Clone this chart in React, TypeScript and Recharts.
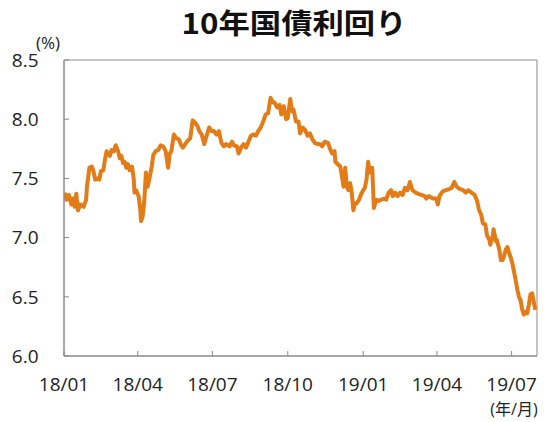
import React from 'react';
import { LineChart, Line, XAxis, YAxis, ReferenceArea } from 'recharts';

// days since 2018-01-01
const dayOffsets = [
  1, 3, 6, 9, 11, 13, 15, 17, 20, 24, 27, 28, 31, 34, 36, 38, 41, 43, 45, 48,
  50, 52, 54, 56, 58, 61, 63, 66, 68, 70, 72, 74, 76, 78, 80, 83, 85, 86, 88, 91,
  93, 94, 96, 98, 100, 102, 104, 107, 109, 112, 115, 118, 121, 124, 127, 129, 131, 134, 137, 140,
  143, 145, 150, 154, 157, 160, 163, 165, 168, 171, 174, 177, 180, 183, 186, 189, 192, 195, 198, 202,
  205, 207, 211, 213, 216, 219, 222, 225, 228, 231, 234, 237, 240, 243, 246, 249, 252, 255, 257, 260,
  263, 265, 268, 271, 273, 276, 278, 280, 283, 286, 288, 291, 294, 297, 300, 303, 306, 309, 312, 315,
  318, 322, 324, 327, 330, 331, 334, 337, 339, 341, 343, 345, 347, 349, 351, 353, 355, 357, 360, 362,
  365, 367, 369, 371, 373, 376, 378, 381, 384, 387, 391, 393, 396, 399, 401, 404, 407, 410, 413, 416,
  419, 422, 425, 429, 432, 436, 440, 442, 445, 450, 454, 456, 458, 462, 466, 470, 473, 476, 479, 483,
  487, 490, 493, 497, 501, 504, 506, 509, 511, 514, 516, 519, 520, 523, 524, 527, 528, 531, 533, 535,
  537, 539, 541, 543, 545, 547, 549, 551, 553, 555, 557, 559, 561, 563, 565, 567, 569, 571, 573, 575,
];

const yields = [
  7.38, 7.32, 7.36, 7.28, 7.33, 7.26, 7.37, 7.23, 7.28, 7.26, 7.32, 7.43, 7.59, 7.60, 7.56, 7.49, 7.50, 7.49, 7.56, 7.57,
  7.66, 7.73, 7.70, 7.69, 7.74, 7.73, 7.78, 7.73, 7.67, 7.69, 7.63, 7.64, 7.59, 7.62, 7.57, 7.60, 7.50, 7.38, 7.40, 7.35,
  7.24, 7.14, 7.18, 7.32, 7.55, 7.43, 7.49, 7.60, 7.70, 7.73, 7.74, 7.78, 7.77, 7.73, 7.59, 7.71, 7.73, 7.87, 7.84, 7.83,
  7.78, 7.76, 7.81, 7.84, 7.99, 7.97, 7.94, 7.90, 7.87, 7.79, 7.86, 7.93, 7.90, 7.90, 7.87, 7.90, 7.80, 7.77, 7.79, 7.77,
  7.81, 7.78, 7.77, 7.71, 7.76, 7.79, 7.76, 7.81, 7.86, 7.87, 7.86, 7.90, 7.93, 7.98, 8.04, 8.05, 8.18, 8.14, 8.14, 8.10,
  8.12, 8.04, 8.11, 8.00, 8.01, 8.17, 8.07, 8.08, 7.98, 7.98, 7.88, 7.93, 7.91, 7.86, 7.88, 7.83, 7.80, 7.79, 7.79, 7.77,
  7.81, 7.80, 7.76, 7.71, 7.73, 7.64, 7.62, 7.60, 7.52, 7.43, 7.59, 7.43, 7.40, 7.46, 7.38, 7.23, 7.29, 7.29, 7.32, 7.36,
  7.40, 7.42, 7.49, 7.64, 7.55, 7.59, 7.25, 7.32, 7.31, 7.32, 7.33, 7.32, 7.38, 7.40, 7.35, 7.38, 7.35, 7.38, 7.36, 7.42,
  7.40, 7.47, 7.40, 7.38, 7.37, 7.36, 7.35, 7.33, 7.35, 7.33, 7.33, 7.28, 7.35, 7.39, 7.40, 7.41, 7.42, 7.47, 7.43, 7.41,
  7.40, 7.38, 7.40, 7.38, 7.36, 7.31, 7.24, 7.19, 7.12, 7.11, 7.02, 6.98, 6.94, 7.01, 7.07, 6.97, 6.98, 6.90, 6.81, 6.81,
  6.85, 6.90, 6.92, 6.87, 6.83, 6.78, 6.71, 6.64, 6.56, 6.50, 6.47, 6.39, 6.35, 6.37, 6.36, 6.43, 6.52, 6.53, 6.46, 6.39,
];

const xTickDays = [0, 90, 181, 273, 365, 455, 546];
const xTickLabels = ['18/01', '18/04', '18/07', '18/10', '19/01', '19/04', '19/07'];
const yTicks = [6.0, 6.5, 7.0, 7.5, 8.0, 8.5];
const xDomain = [0, 577];
const yDomain = [6.0, 8.5];

const title = '10年国債利回り';
const yUnit = '(%)';
const xUnit = '(年/月)';

const data = dayOffsets.map((d, i) => ({ day: d, value: yields[i] }));

const AXIS = '#8a8a8a';
const TEXT = '#222222';
const LINE = '#E37B17';
const NUM_FONT = "'Open Sans', 'Noto Sans CJK JP', sans-serif";

export default function App() {
  return (
    <div style={{ position: 'absolute', left: 0, top: 0, width: 550, height: 422, background: '#fff' }}>
      <LineChart
        width={550}
        height={422}
        data={data}
        margin={{ top: 60, right: 13, bottom: 36, left: 14 }}
      >
        <XAxis
          type="number"
          dataKey="day"
          domain={xDomain}
          ticks={xTickDays}
          interval={0}
          allowDataOverflow
          tickFormatter={(v: number) => xTickLabels[xTickDays.indexOf(v)] ?? ''}
          height={30}
          tickSize={-5}
          tickMargin={27}
          stroke={AXIS}
          tick={{ fill: TEXT, fontSize: 19, fontFamily: NUM_FONT }}
        />
        <YAxis
          type="number"
          domain={yDomain}
          ticks={yTicks}
          interval={0}
          allowDataOverflow
          tickFormatter={(v: number) => v.toFixed(1)}
          width={50}
          tickSize={-5}
          tickMargin={30.5}
          stroke={AXIS}
          tick={{ fill: TEXT, fontSize: 19, fontFamily: NUM_FONT }}
        />
        <ReferenceArea
          x1={xDomain[0]}
          x2={xDomain[1]}
          y1={yDomain[0]}
          y2={yDomain[1]}
          fill="none"
          fillOpacity={0}
          stroke={AXIS}
          strokeWidth={1}
          ifOverflow="visible"
        />
        <Line
          type="linear"
          dataKey="value"
          stroke={LINE}
          strokeWidth={4}
          strokeLinejoin="round"
          dot={false}
          activeDot={false}
          isAnimationActive={false}
        />
      </LineChart>
      <svg
        width={550}
        height={422}
        style={{ position: 'absolute', left: 0, top: 0, pointerEvents: 'none' }}
      >
        <text
          x={294}
          y={33.5}
          textAnchor="middle"
          fontFamily="'Noto Sans CJK JP', sans-serif"
          fontSize={28}
          fontWeight="bold"
          fill="#111"
          textLength={225}
          lengthAdjust="spacingAndGlyphs"
        >
          {title}
        </text>
        <text x={48} y={49} textAnchor="middle" fontFamily={NUM_FONT} fontSize={17} fill={TEXT}>
          {yUnit}
        </text>
        <text x={514} y={415} textAnchor="middle" fontFamily={NUM_FONT} fontSize={16} fill={TEXT}>
          {xUnit}
        </text>
      </svg>
    </div>
  );
}
